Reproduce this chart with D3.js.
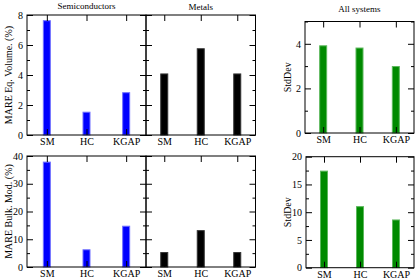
<!DOCTYPE html>
<html lang="en">
<head>
<meta charset="utf-8">
<title>MARE panels</title>
<script src="https://cdnjs.cloudflare.com/ajax/libs/d3/7.8.5/d3.min.js"></script>
<style>
    body { margin: 0; background: #fff; }
    svg, svg text { font-family: "Liberation Serif", "DejaVu Serif", serif; }
    .tick text { font-size: 10px; fill: #000; font-family: "Liberation Serif", serif; }
    .tick line { stroke: #000; }
    .domain { display: none; }
</style>
</head>
<body>
<div id="viz"></div>
<script>
    var categories = ["SM", "HC", "KGAP"];

    // MARE of equilibrium volume (%)
    var volSemi  = [7.62, 1.52, 2.82];
    var volMetal = [4.07, 5.75, 4.07];
    var volStd   = [3.91, 3.81, 2.98];

    // MARE of bulk modulus (%)
    var bulkSemi  = [37.8, 6.2, 14.7];
    var bulkMetal = [5.2, 13.1, 5.2];
    var bulkStd   = [17.4, 11.0, 8.6];

    var titles = ["Semiconductors", "Metals", "All systems"];

    var svg = d3.select("#viz").append("svg")
        .attr("width", 415)
        .attr("height", 279);

    var panels = [
        {x0: 27,  x1: 146,   y0: 15,    y1: 135, max: 8,  major: 2,  minor: 1,   data: volSemi,   fill: "#0000ff", edge: "#7070ff", labels: true,  ylabel: "MARE Eq. Volume. (%)", title: titles[0], ty: 9,  lx: 12},
        {x0: 146, x1: 255.5, y0: 15,    y1: 135, max: 8,  major: 2,  minor: 1,   data: volMetal,  fill: "#000000", edge: "#333333", labels: false, title: titles[1], ty: 9.5},
        {x0: 305, x1: 414,   y0: 21.5,  y1: 133, max: 5,  major: 2,  minor: 1,   data: volStd,    fill: "#008a00", edge: "#5cb85c", labels: true,  ylabel: "StdDev", title: titles[2], ty: 12, lx: 291},
        {x0: 27,  x1: 146,   y0: 156,   y1: 267, max: 40, major: 10, minor: 5,   data: bulkSemi,  fill: "#0000ff", edge: "#7070ff", labels: true,  ylabel: "MARE Bulk. Mod. (%)", lx: 12},
        {x0: 146, x1: 255.5, y0: 156,   y1: 267, max: 40, major: 10, minor: 5,   data: bulkMetal, fill: "#000000", edge: "#333333", labels: false},
        {x0: 306, x1: 414,   y0: 156.7, y1: 267.7, max: 20, major: 5, minor: 2.5, data: bulkStd,  fill: "#008a00", edge: "#5cb85c", labels: true,  ylabel: "StdDev", lx: 291}
    ];

    panels.forEach(function(p) {
        var x = d3.scaleLinear().domain([0.5, 3.5]).range([p.x0, p.x1]);
        var y = d3.scaleLinear().domain([0, p.max]).range([p.y1, p.y0]);
        var g = svg.append("g");

        var majorTicks = d3.range(0, p.max + 0.001, p.major);
        var minorTicks = d3.range(0, p.max + 0.001, p.minor).filter(function(v) {
            return Math.abs(v / p.major - Math.round(v / p.major)) > 0.01;
        });

        // bars
        var bw = 7;
        g.selectAll("rect.bar")
            .data(p.data)
            .enter()
            .append("rect")
            .attr("class", "bar")
            .attr("x", (d, i) => x(i + 1) - bw / 2)
            .attr("width", bw)
            .attr("y", d => y(d))
            .attr("height", d => y(0) - y(d))
            .style("fill", p.fill)
            .style("stroke", p.edge)
            .style("stroke-width", 1);

        // y axes (inward ticks, both sides)
        g.append("g").attr("transform", "translate(" + p.x0 + ",0)")
            .call(d3.axisLeft(y).tickValues(majorTicks).tickSize(-6).tickPadding(4)
                .tickFormat(p.labels ? d3.format("d") : ""));
        g.append("g").attr("transform", "translate(" + p.x0 + ",0)")
            .call(d3.axisLeft(y).tickValues(minorTicks).tickSize(-3).tickFormat(""));
        g.append("g").attr("transform", "translate(" + p.x1 + ",0)")
            .call(d3.axisRight(y).tickValues(majorTicks).tickSize(-6).tickFormat(""));
        g.append("g").attr("transform", "translate(" + p.x1 + ",0)")
            .call(d3.axisRight(y).tickValues(minorTicks).tickSize(-3).tickFormat(""));

        // x axes
        g.append("g").attr("transform", "translate(0," + p.y1 + ")")
            .call(d3.axisBottom(x).tickValues([1, 2, 3]).tickSize(-6).tickPadding(3)
                .tickFormat((d, i) => categories[i]));
        g.append("g").attr("transform", "translate(0," + p.y0 + ")")
            .call(d3.axisTop(x).tickValues([1, 2, 3]).tickSize(-6).tickFormat(""));

        g.selectAll("g").attr("font-family", null);
        g.selectAll(".tick line").style("stroke-width", 1);

        // frame
        g.append("rect")
            .attr("x", p.x0)
            .attr("y", p.y0)
            .attr("width", p.x1 - p.x0)
            .attr("height", p.y1 - p.y0)
            .style("fill", "none")
            .style("stroke", "#000")
            .style("stroke-width", 1);

        if (p.title) {
            svg.append("text")
                .attr("x", (p.x0 + p.x1) / 2)
                .attr("y", p.ty)
                .style("text-anchor", "middle")
                .style("font-size", "9px")
                .text(p.title);
        }
        if (p.ylabel) {
            svg.append("text")
                .attr("transform", "translate(" + p.lx + "," + (p.y0 + p.y1) / 2 + ") rotate(-90)")
                .style("text-anchor", "middle")
                .style("font-size", "10px")
                .text(p.ylabel);
        }
    });
</script>
</body>
</html>
